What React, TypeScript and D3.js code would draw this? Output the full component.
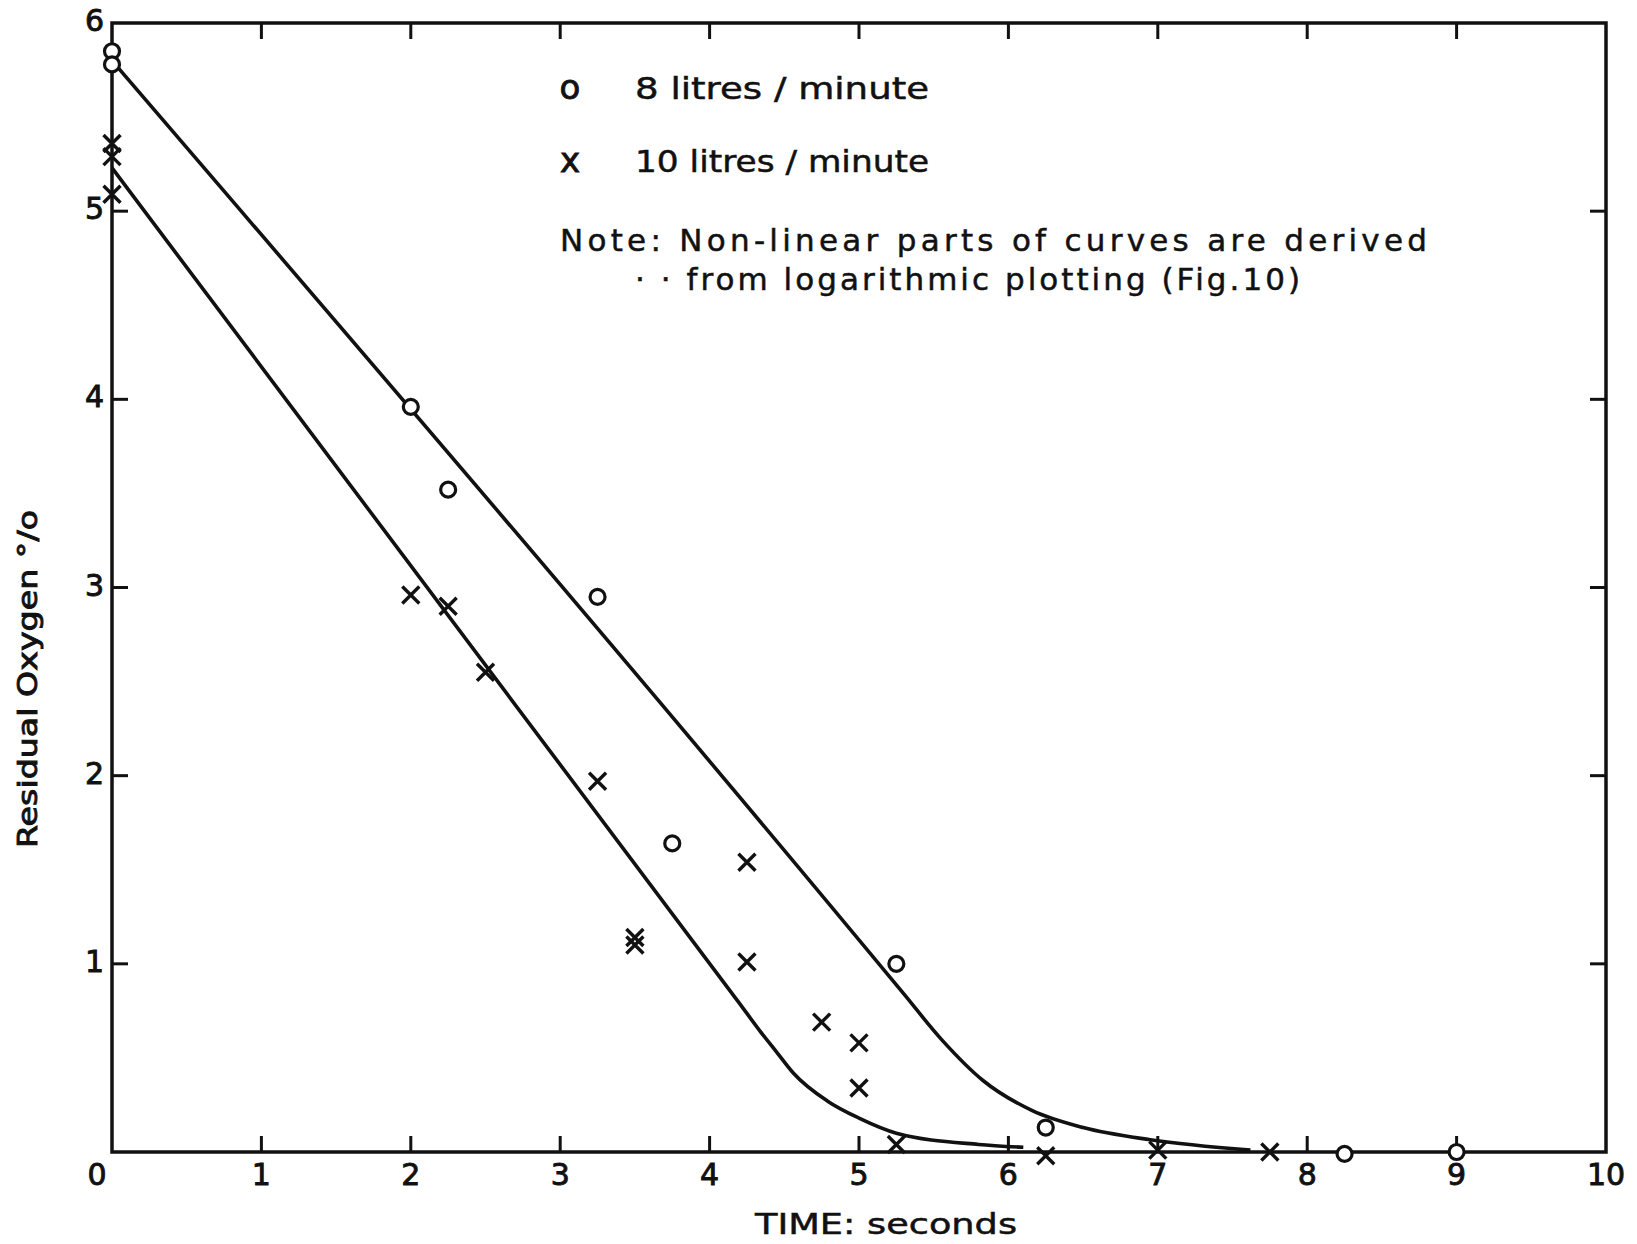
import React from "react";
import * as d3 from "d3";

// Measured points: [time (s), residual oxygen (%)]
const flow8Points: [number, number][] = [
  [0, 5.85], [0, 5.78], [2.0, 3.96], [2.25, 3.52], [3.25, 2.95],
  [3.75, 1.64], [5.25, 1.0], [6.25, 0.13], [8.25, -0.01], [9.0, 0.0],
];

const flow10Points: [number, number][] = [
  [0, 5.36], [0, 5.29], [0, 5.09], [2.0, 2.96], [2.25, 2.9], [2.5, 2.55],
  [3.25, 1.97], [3.5, 1.14], [3.5, 1.1], [4.25, 1.54], [4.25, 1.01],
  [4.75, 0.69], [5.0, 0.58], [5.0, 0.34], [5.25, 0.04], [6.25, -0.02],
  [7.0, 0.01], [7.75, 0.0],
];

// Fitted curves (linear part, then the tail from logarithmic plotting)
const flow8Curve: [number, number][] = [
  [0, 5.8], [5.3, 0.84], [5.55, 0.6], [5.83, 0.38], [6.16, 0.22],
  [6.5, 0.13], [6.95, 0.065], [7.62, 0.01],
];

const flow10Curve: [number, number][] = [
  [0, 5.23], [4.2, 0.79], [4.34, 0.64], [4.45, 0.53], [4.56, 0.42],
  [4.79, 0.27], [5.0, 0.18], [5.25, 0.1], [5.8, 0.04], [6.1, 0.025],
];

const xTicks = [0, 1, 2, 3, 4, 5, 6, 7, 8, 9, 10];
const yTicks = [1, 2, 3, 4, 5, 6];

const legendItems = [
  { symbol: "o", label: "8 litres / minute" },
  { symbol: "x", label: "10 litres / minute" },
];
const noteLines = [
  "Note: Non-linear parts of curves are derived",
  "· · from logarithmic plotting (Fig.10)",
];

const W = 1637;
const H = 1244;
const left = 112;
const right = 1606;
const top = 23;
const bottom = 1152;
const FONT = "'DejaVu Sans', sans-serif";
const INK = "#111";

export default function App() {
  const x = d3.scaleLinear().domain([0, 10]).range([left, right]);
  const y = d3.scaleLinear().domain([0, 6]).range([bottom, top]);
  const line = d3
    .line<[number, number]>()
    .x((d) => x(d[0]))
    .y((d) => y(d[1]))
    .curve(d3.curveMonotoneX);

  const tickLen = 16;
  const r = 7.5;
  const c = 8.5;
  const heavy = { stroke: INK, strokeWidth: 0.9, paintOrder: "stroke" } as const;
  const medium = { stroke: INK, strokeWidth: 0.5, paintOrder: "stroke" } as const;

  return (
    <svg
      width={W}
      height={H}
      viewBox={`0 0 ${W} ${H}`}
      style={{ position: "absolute", left: 0, top: 0, background: "#fff" }}
    >
      <rect x={0} y={0} width={W} height={H} fill="#fff" />

      {/* frame */}
      <rect
        x={left}
        y={top}
        width={right - left}
        height={bottom - top}
        fill="none"
        stroke={INK}
        strokeWidth={3.5}
      />

      {/* inward ticks on all four sides */}
      {xTicks.filter((t) => t > 0 && t < 10).map((t) => (
        <g key={`xt${t}`} stroke={INK} strokeWidth={3}>
          <line x1={x(t)} x2={x(t)} y1={bottom} y2={bottom - tickLen} />
          <line x1={x(t)} x2={x(t)} y1={top} y2={top + tickLen} />
        </g>
      ))}
      {yTicks.filter((t) => t < 6).map((t) => (
        <g key={`yt${t}`} stroke={INK} strokeWidth={3}>
          <line x1={left} x2={left + tickLen} y1={y(t)} y2={y(t)} />
          <line x1={right} x2={right - tickLen} y1={y(t)} y2={y(t)} />
        </g>
      ))}

      {/* tick labels */}
      {xTicks.map((t) => (
        <text
          key={`xl${t}`}
          x={t === 0 ? x(t) - 15 : x(t)}
          y={1185}
          textAnchor="middle"
          fontFamily={FONT}
          fontSize={30}
          fill={INK}
          {...heavy}
        >
          {t}
        </text>
      ))}
      {yTicks.map((t) => (
        <text
          key={`yl${t}`}
          x={104}
          y={y(t) + 8}
          textAnchor="end"
          fontFamily={FONT}
          fontSize={30}
          fill={INK}
          {...heavy}
        >
          {t}
        </text>
      ))}

      {/* axis titles */}
      <text
        x={886}
        y={1234}
        textAnchor="middle"
        fontFamily={FONT}
        fontSize={29}
        textLength={262}
        lengthAdjust="spacingAndGlyphs"
        fill={INK}
        {...medium}
      >
        TIME:  seconds
      </text>
      <text
        transform="translate(37,679) rotate(-90)"
        textAnchor="middle"
        fontFamily={FONT}
        fontSize={27}
        textLength={338}
        lengthAdjust="spacingAndGlyphs"
        fill={INK}
        {...heavy}
      >
        Residual  Oxygen °/o
      </text>

      {/* fitted curves */}
      <path d={line(flow8Curve) ?? ""} fill="none" stroke={INK} strokeWidth={3.6} />
      <path d={line(flow10Curve) ?? ""} fill="none" stroke={INK} strokeWidth={3.6} />

      {/* 8 litres/minute: circles */}
      {flow8Points.map((d, i) => (
        <circle
          key={`c${i}`}
          cx={x(d[0])}
          cy={y(d[1])}
          r={r}
          fill="#fff"
          stroke={INK}
          strokeWidth={3.2}
        />
      ))}

      {/* 10 litres/minute: crosses */}
      {flow10Points.map((d, i) => {
        const px = x(d[0]);
        const py = y(d[1]);
        return (
          <path
            key={`x${i}`}
            d={`M${px - c},${py - c}L${px + c},${py + c}M${px - c},${py + c}L${px + c},${py - c}`}
            stroke={INK}
            strokeWidth={3.4}
            fill="none"
          />
        );
      })}

      {/* legend */}
      {legendItems.map((item, i) => (
        <g key={`lg${i}`} fontFamily={FONT} fill={INK}>
          <text x={570} y={99 + i * 73} textAnchor="middle" fontSize={34} {...heavy}>
            {item.symbol}
          </text>
          <text
            x={635}
            y={99 + i * 73}
            fontSize={31}
            textLength={294}
            lengthAdjust="spacingAndGlyphs"
            {...medium}
          >
            {item.label}
          </text>
        </g>
      ))}
      <text
        x={560}
        y={251}
        fontFamily={FONT}
        fontSize={31}
        textLength={867}
        lengthAdjust="spacing"
        fill={INK}
        {...medium}
      >
        {noteLines[0]}
      </text>
      <text
        x={635}
        y={290}
        fontFamily={FONT}
        fontSize={31}
        textLength={665}
        lengthAdjust="spacing"
        fill={INK}
        {...medium}
      >
        {noteLines[1]}
      </text>
    </svg>
  );
}
